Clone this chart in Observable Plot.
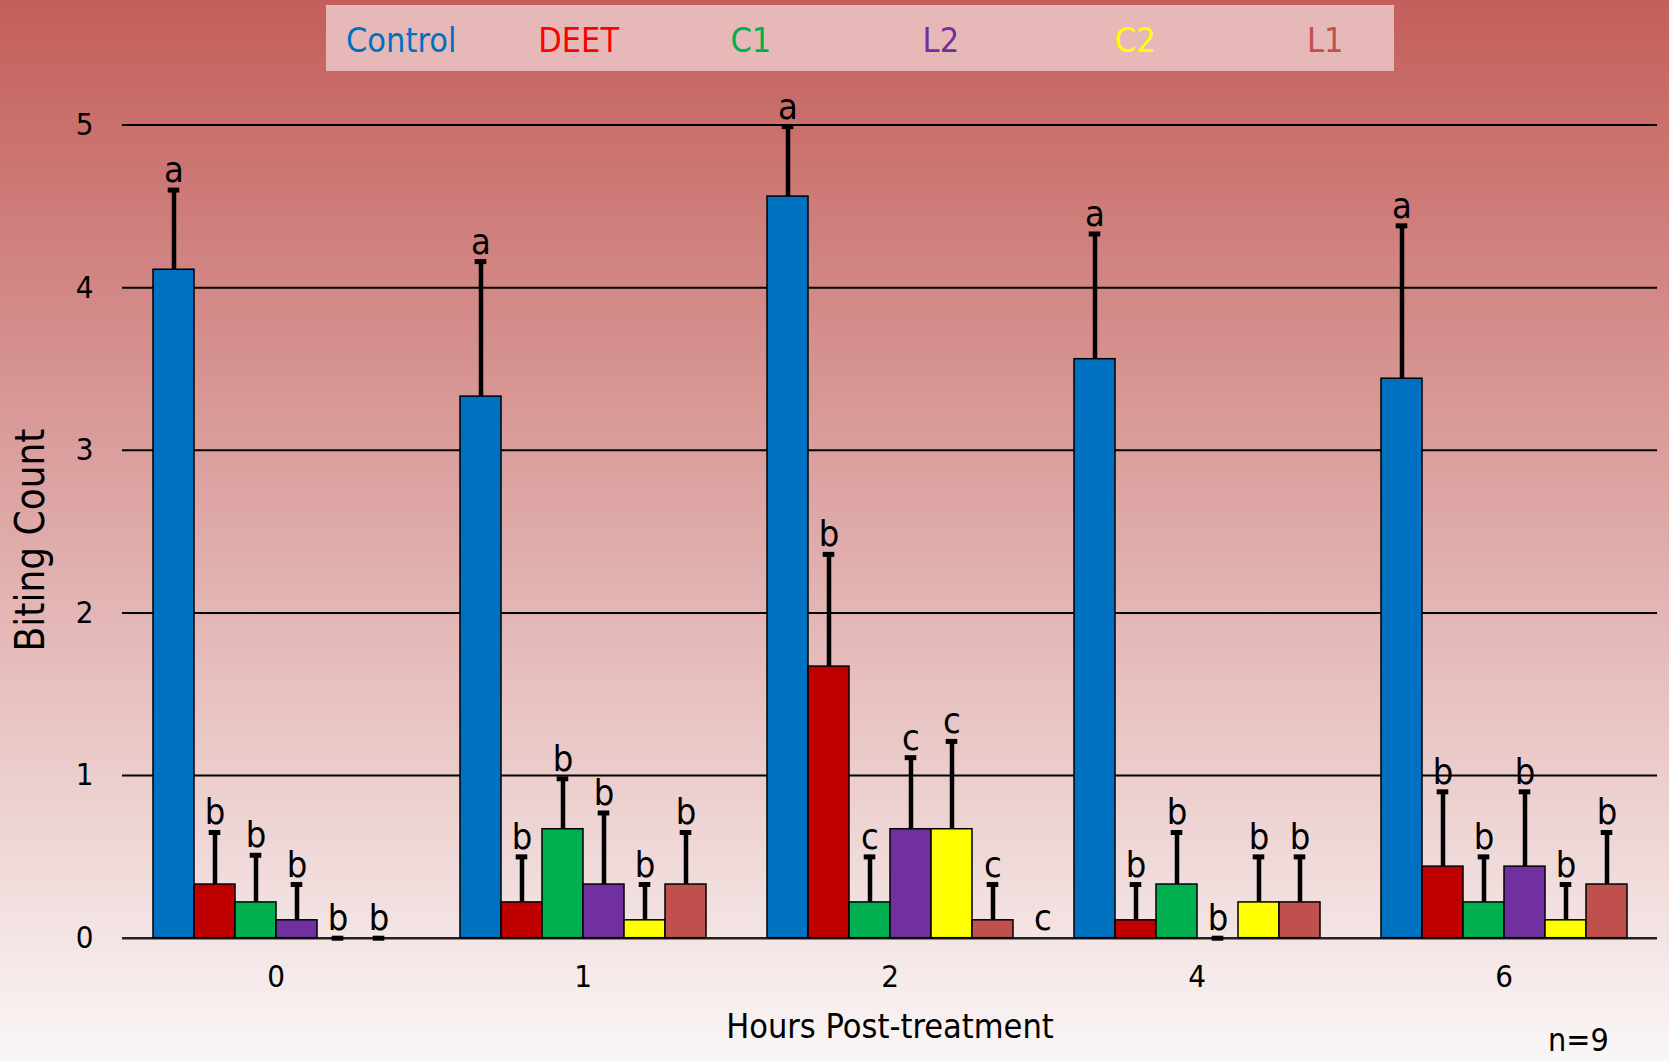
<!DOCTYPE html>
<html>
<head>
<meta charset="utf-8">
<script src="https://cdn.jsdelivr.net/npm/d3@7"></script>
<script src="https://cdn.jsdelivr.net/npm/@observablehq/plot@0.6"></script>
<style>
  html, body { margin: 0; padding: 0; }
  body {
    width: 1669px; height: 1061px; overflow: hidden;
    background: linear-gradient(180deg, #C35E5B 0%, #FAF6F6 100%);
  }
  #wrap { position: relative; width: 1669px; height: 1061px; }
  #wrap svg { position: absolute; left: 0; top: 0; }
</style>
</head>
<body>
<div id="wrap"></div>
<script>
// ---- data ----
const hours = ["0", "1", "2", "4", "6"];
const treatments = ["Control", "DEET", "C1", "L2", "C2", "L1"];
const barColors = ["#0070C0", "#C00000", "#00B050", "#7030A0", "#FFFF00", "#C0504D"];
const legendColors = ["#0070C0", "#FF0000", "#00B050", "#7030A0", "#FFFF00", "#C0504D"];

const controlMean = [4.11, 3.33, 4.56, 3.56, 3.44];
const controlErr  = [0.49, 0.83, 0.43, 0.77, 0.94];
const deetMean    = [0.33, 0.22, 1.67, 0.11, 0.44];
const deetErr     = [0.32, 0.28, 0.69, 0.22, 0.46];
const c1Mean      = [0.22, 0.67, 0.22, 0.33, 0.22];
const c1Err       = [0.29, 0.31, 0.28, 0.32, 0.28];
const l2Mean      = [0.11, 0.33, 0.67, 0.00, 0.44];
const l2Err       = [0.22, 0.44, 0.44, 0.00, 0.46];
const c2Mean      = [0.00, 0.11, 0.67, 0.22, 0.11];
const c2Err       = [0.00, 0.22, 0.54, 0.28, 0.22];
const l1Mean      = [0.00, 0.33, 0.11, 0.22, 0.33];
const l1Err       = [0.00, 0.32, 0.22, 0.28, 0.32];

const controlLetters = ["a", "a", "a", "a", "a"];
const deetLetters    = ["b", "b", "b", "b", "b"];
const c1Letters      = ["b", "b", "c", "b", "b"];
const l2Letters      = ["b", "b", "c", "b", "b"];
const c2Letters      = ["b", "b", "c", "b", "b"];
const l1Letters      = ["b", "b", "c", "b", "b"];
// stray significance letter printed beside the L1 bar at 2 h
const extraLetters = [{hour: "2", treatment: "L1", value: 0, letter: "c"}];

const yTicks = [0, 1, 2, 3, 4, 5];
const gridValues = [1, 2, 3, 4, 5];
const yTitle = "Biting Count";
const xTitle = "Hours Post-treatment";
const note = "n=9";

// ---- table ----
const means = [controlMean, deetMean, c1Mean, l2Mean, c2Mean, l1Mean];
const errs = [controlErr, deetErr, c1Err, l2Err, c2Err, l1Err];
const letters = [controlLetters, deetLetters, c1Letters, l2Letters, c2Letters, l1Letters];
const rows = [];
treatments.forEach((t, ti) => hours.forEach((h, hi) => rows.push({
  hour: h, treatment: t, mean: means[ti][hi], err: errs[ti][hi],
  upper: means[ti][hi] + errs[ti][hi], letter: letters[ti][hi]
})));

const FONT = '"DejaVu Sans Condensed", "DejaVu Sans", sans-serif';

const W = 1669, H = 1061;
const chart = Plot.plot({
  width: W, height: H,
  marginLeft: 122, marginRight: 12, marginTop: 124.5, marginBottom: 123.3,
  style: {background: "none", fontFamily: FONT, color: "black", fontStretch: "condensed"},
  fx: {domain: hours, padding: 0, label: null},
  x: {domain: treatments, paddingInner: 0, paddingOuter: 0.71, axis: null},
  y: {domain: [0, 5]},
  color: {domain: treatments, range: barColors},
  marks: [
    Plot.ruleY(gridValues, {stroke: "#000", strokeWidth: 2}),
    Plot.ruleY([0], {stroke: "#222", strokeWidth: 2.5}),
    Plot.barY(rows, {fx: "hour", x: "treatment", y: "mean", fill: "treatment", stroke: "#000", strokeWidth: 1.5}),
    Plot.ruleX(rows, {fx: "hour", x: "treatment", y1: "mean", y2: "upper", stroke: "#000", strokeWidth: 4.5}),
    Plot.tickY(rows, {fx: "hour", x: "treatment", y: "upper", stroke: "#000", strokeWidth: 5, insetLeft: 14.7, insetRight: 14.7}),
    Plot.text(rows, {fx: "hour", x: "treatment", y: "upper", text: "letter", lineAnchor: "bottom", dy: -8, fontSize: 36, fill: "#000"}),
    Plot.text(extraLetters, {fx: "hour", x: "treatment", y: "value", text: "letter", lineAnchor: "bottom", dy: -8, dx: 50, fontSize: 36, fill: "#000"}),
    Plot.axisY({ticks: yTicks, tickFormat: d3.format("d"), tickSize: 0, tickPadding: 29, fontSize: 31, label: null}),
    Plot.axisFx({anchor: "bottom", tickSize: 0, tickPadding: 27, fontSize: 31, label: null})
  ]
});
document.getElementById("wrap").appendChild(chart);

// ---- overlay: legend box, axis titles, note ----
const ov = d3.select("#wrap").append("svg")
  .attr("width", W).attr("height", H)
  .style("pointer-events", "none")
  .style("font-family", FONT).style("font-stretch", "condensed");

ov.append("rect").attr("x", 326).attr("y", 5).attr("width", 1068).attr("height", 66).attr("fill", "#E6B9B8");
const legX = d3.scaleLinear().domain([0, treatments.length - 1]).range([346, 1307]);
ov.selectAll("text.leg").data(treatments).join("text")
  .attr("class", "leg")
  .attr("x", (d, i) => legX(i)).attr("y", 51.5)
  .attr("font-size", 34).attr("fill", (d, i) => legendColors[i])
  .text(d => d);

ov.append("text")
  .attr("transform", "translate(43.5,540) rotate(-90)")
  .attr("text-anchor", "middle").attr("font-size", 40).attr("fill", "#000")
  .text(yTitle);

ov.append("text")
  .attr("x", 890).attr("y", 1038).attr("text-anchor", "middle")
  .attr("font-size", 34).attr("fill", "#000").text(xTitle);

ov.append("text")
  .attr("x", 1548).attr("y", 1051).attr("text-anchor", "start")
  .attr("font-size", 32).attr("fill", "#000").text(note);
</script>
</body>
</html>
